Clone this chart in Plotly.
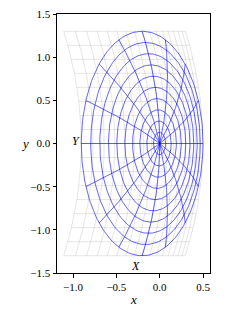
import numpy as np
import plotly.graph_objects as go

# Transformation constants: x = A*u - K*(u^2+v^2), y = v
A = 0.54
K = 0.12

ring_radii = [0.13, 0.26, 0.39, 0.52, 0.65, 0.78, 0.91, 1.04, 1.17, 1.30]
ray_angles_deg = [0, 22.5, 45, 67.5, 90, 112.5, 135, 157.5, 180,
                  202.5, 225, 247.5, 270, 292.5, 315, 337.5]
grid_values = [-1.3, -1.1375, -0.975, -0.8125, -0.65, -0.4875, -0.325, -0.1625, 0.0,
               0.1625, 0.325, 0.4875, 0.65, 0.8125, 0.975, 1.1375, 1.3]
x_ticks = [-1.0, -0.5, 0.0, 0.5]
y_ticks = [-1.5, -1.0, -0.5, 0.0, 0.5, 1.0, 1.5]


def mapping(u, v):
    u = np.asarray(u)
    v = np.asarray(v)
    return A * u - K * (u ** 2 + v ** 2), v


gx, gy = [], []
gmin, gmax = min(grid_values), max(grid_values)
s = np.linspace(gmin, gmax, 80)
for g in grid_values:
    x, y = mapping(np.full_like(s, g), s)
    gx += list(x) + [None]
    gy += list(y) + [None]
    x, y = mapping(s, np.full_like(s, g))
    gx += list(x) + [None]
    gy += list(y) + [None]

bx, by = [], []
t = np.linspace(0, 2 * np.pi, 200)
for r in ring_radii:
    x, y = mapping(r * np.cos(t), r * np.sin(t))
    bx += list(x) + [None]
    by += list(y) + [None]
rr = np.linspace(0, max(ring_radii), 60)
for ang in ray_angles_deg:
    th = np.deg2rad(ang)
    x, y = mapping(rr * np.cos(th), rr * np.sin(th))
    bx += list(x) + [None]
    by += list(y) + [None]

fig = go.Figure()
fig.add_trace(go.Scatter(x=gx, y=gy, mode="lines",
                         line=dict(color="rgba(0,0,0,0.13)", width=0.8),
                         hoverinfo="skip", showlegend=False))
fig.add_trace(go.Scatter(x=bx, y=by, mode="lines",
                         line=dict(color="rgba(0,0,255,0.6)", width=1),
                         hoverinfo="skip", showlegend=False))

FAM = "Liberation Serif, DejaVu Serif, serif"
font = dict(family=FAM, size=11, color="black")

fig.add_annotation(x=-0.97, y=0.03, text="<i>Y</i>", showarrow=False,
                   font=dict(family=FAM, size=12, color="black"))
fig.add_annotation(x=-0.28, y=-1.42, text="<i>X</i>", showarrow=False,
                   font=dict(family=FAM, size=12, color="black"))
fig.add_annotation(x=0.5, y=0, xref="paper", yref="paper", yshift=-17, yanchor="top",
                   text="<i>x</i>", showarrow=False,
                   font=dict(family=FAM, size=13, color="black"))
fig.add_annotation(x=0, y=0.5, xref="paper", yref="paper", xshift=-26, xanchor="right",
                   text="<i>y</i>", showarrow=False,
                   font=dict(family=FAM, size=13, color="black"))


def fmt(v):
    s = f"{abs(v):.1f}"
    return ("\u2212" + s) if v < 0 else s


common = dict(ticks="outside", ticklen=3.5, tickwidth=0.8, tickcolor="black",
              showline=True, linecolor="black", linewidth=1, mirror=True,
              showgrid=False, zeroline=False, tickfont=font, automargin=False,
              ticklabeloverflow="allow")
fig.update_xaxes(range=[-1.185, 0.58], tickvals=x_ticks,
                 ticktext=[fmt(v) for v in x_ticks], **common)
fig.update_yaxes(range=[-1.5, 1.5], tickvals=y_ticks,
                 ticktext=[fmt(v) for v in y_ticks], **common)

# page body has an 8px margin, so the figure is sized/offset to compensate
fig.update_layout(width=232, height=307, margin=dict(l=49, r=30, t=6, b=42),
                  paper_bgcolor="white", plot_bgcolor="white",
                  font=dict(family=FAM, color="black"))

fig.write_html("out.html")
